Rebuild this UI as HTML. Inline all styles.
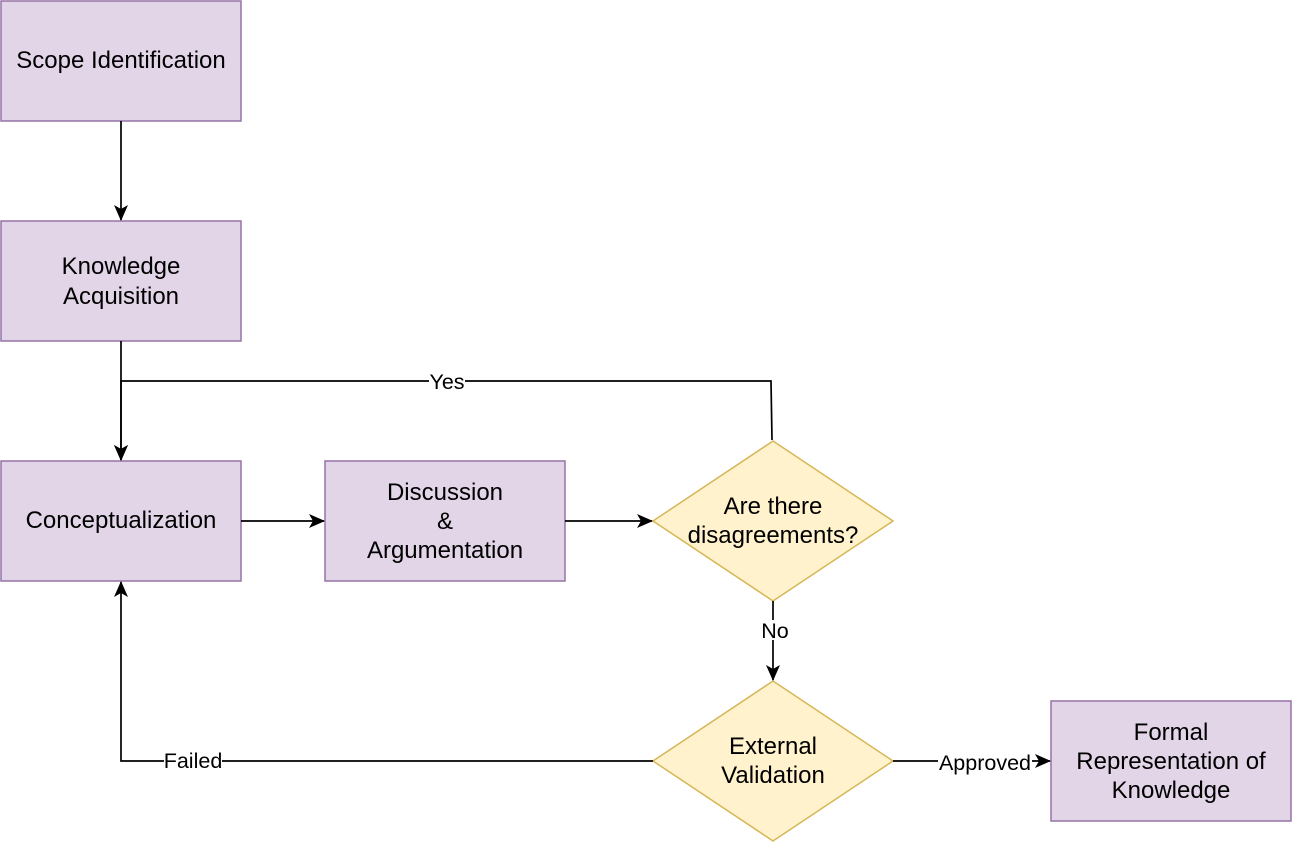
<!DOCTYPE html>
<html><head><meta charset="utf-8"><style>
html,body{margin:0;padding:0;background:#fff;}
svg{display:block;}
text{font-family:"Liberation Sans",sans-serif;font-size:24px;fill:#000;}
text.lbl{font-size:21.5px;}
</style></head><body>
<svg width="1292" height="844" viewBox="0 0 1292 844">
<defs>
<marker id="a" markerWidth="16" markerHeight="14" refX="15" refY="7" orient="auto" markerUnits="userSpaceOnUse">
<path d="M0,0 L16,7 L0,14 L4,7 Z" fill="#000"/>
</marker>
</defs>
<g fill="#e1d5e7" stroke="#9673a6" stroke-width="1.5">
<rect x="1" y="1" width="240" height="120"/>
<rect x="1" y="221" width="240" height="120"/>
<rect x="1" y="461" width="240" height="120"/>
<rect x="325" y="461" width="240" height="120"/>
<rect x="1051" y="701" width="240" height="120"/>
</g>
<g fill="#fff2cc" stroke="#d6b656" stroke-width="1.5">
<polygon points="773,441 893,521 773,601 653,521"/>
<polygon points="773,681 893,761 773,841 653,761"/>
</g>
<g stroke="#000" stroke-width="1.7" fill="none">
<line x1="121" y1="121" x2="121" y2="220" marker-end="url(#a)"/>
<line x1="121" y1="341" x2="121" y2="460" marker-end="url(#a)"/>
<polyline points="772,440 771,381 121,381 121,460" marker-end="url(#a)"/>
<line x1="241" y1="521" x2="324" y2="521" marker-end="url(#a)"/>
<line x1="565" y1="521" x2="652" y2="521" marker-end="url(#a)"/>
<line x1="773" y1="601" x2="773" y2="680" marker-end="url(#a)"/>
<polyline points="653,761 121,761 121,582" marker-end="url(#a)"/>
<line x1="893" y1="761" x2="1050" y2="761" marker-end="url(#a)"/>
</g>
<g text-anchor="middle">
<text x="121" y="68">Scope Identification</text>
<text x="121" y="274">Knowledge</text>
<text x="121" y="304">Acquisition</text>
<text x="121" y="528">Conceptualization</text>
<text x="445" y="500">Discussion</text>
<text x="445" y="529">&amp;</text>
<text x="445" y="558">Argumentation</text>
<text x="773" y="514">Are there</text>
<text x="773" y="543">disagreements?</text>
<text x="773" y="754">External</text>
<text x="773" y="783">Validation</text>
<text x="1171" y="740">Formal</text>
<text x="1171" y="769">Representation of</text>
<text x="1171" y="798">Knowledge</text>
</g>
<g text-anchor="middle">
<rect x="429" y="371" width="36" height="20" fill="#fff"/>
<text class="lbl" x="447" y="389">Yes</text>
<rect x="760" y="620" width="30" height="20" fill="#fff"/>
<text class="lbl" x="775" y="638">No</text>
<rect x="164" y="750" width="58" height="20" fill="#fff"/>
<text class="lbl" x="193" y="768">Failed</text>
<rect x="938" y="752" width="94" height="20" fill="#fff"/>
<text class="lbl" x="985" y="770">Approved</text>
</g>
</svg>
</body></html>
